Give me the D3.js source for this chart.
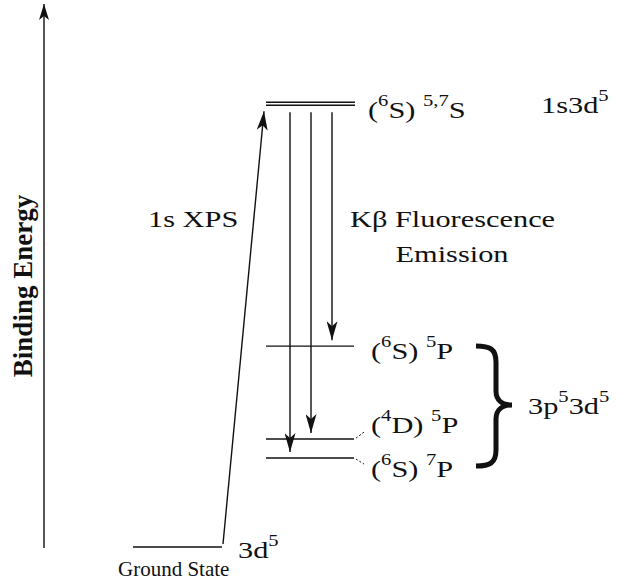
<!DOCTYPE html>
<html>
<head>
<meta charset="utf-8">
<script src="https://cdn.jsdelivr.net/npm/d3@7"></script>
<style>
  html, body { margin: 0; padding: 0; background: #fff; }
  svg { display: block; }
  text { font-family: "Liberation Serif", "Times New Roman", serif; fill: #111; white-space: pre; }
</style>
</head>
<body>
<div id="chart"></div>
<script>
// energies in arbitrary units (ground state = 0)
const groundEnergy = 0;
const coreHoleEnergy = [442, 445];            // 1s3d5 level, drawn as a double line
const finalLabels = ["(^{6}S) ^{7}P", "(^{4}D) ^{5}P", "(^{6}S) ^{5}P"];
const finalEnergy = [89, 108, 201];           // 3p5 3d5 final states
const coreHoleLabel = "(^{6}S) ^{5,7}S";

const width = 621, height = 582;

const svg = d3.select("#chart")
  .append("svg")
  .attr("width", width)
  .attr("height", height);

// energy scale, up = higher binding energy
const y = d3.scaleLinear().domain([0, 445]).range([547, 102.3]);
// columns of the emission arrows, one per final state
const xEm = d3.scalePoint().domain(finalLabels).range([290, 332]);

// arrow heads (latex stealth style)
const defs = svg.append("defs");
function head(id, len, half, notch) {
  defs.append("marker")
    .attr("id", id)
    .attr("markerUnits", "userSpaceOnUse")
    .attr("viewBox", `${-len} ${-half} ${len} ${half * 2}`)
    .attr("markerWidth", len)
    .attr("markerHeight", half * 2)
    .attr("refX", 0).attr("refY", 0)
    .attr("orient", "auto")
    .append("path")
    .attr("d", `M0,0L${-len},${-half}L${-len + notch},0L${-len},${half}Z`)
    .attr("fill", "#111");
}
head("big", 19, 5.5, 5);
head("axis", 16, 5, 4);

// text with ^{..} superscripts, stretched sideways like the original
function richText(str, x, yy, size, sx, anchor) {
  const t = svg.append("text")
    .attr("transform", `translate(${x},${yy}) scale(${sx},1)`)
    .attr("font-size", size)
    .attr("text-anchor", anchor || "start");
  const parts = str.split(/(\^\{[^}]*\})/).filter(s => s.length);
  let up = false;
  parts.forEach(p => {
    if (p.startsWith("^{")) {
      t.append("tspan").attr("font-size", size * 0.68)
        .attr("dy", up ? 0 : -size * 0.5).text(p.slice(2, -1));
      up = true;
    } else {
      t.append("tspan").attr("dy", up ? size * 0.5 : 0).text(p);
      up = false;
    }
  });
  return t;
}

const lineW = 1.4;

// ----- binding energy axis -----
svg.append("line")
  .attr("x1", 44).attr("y1", 548)
  .attr("x2", 44).attr("y2", 4)
  .attr("stroke", "#111").attr("stroke-width", lineW)
  .attr("marker-end", "url(#axis)");

svg.append("text")
  .attr("transform", `translate(32,${286}) rotate(-90)`)
  .attr("text-anchor", "middle")
  .attr("font-size", 27)
  .attr("font-weight", "bold")
  .text("Binding Energy");

// ----- levels -----
svg.append("line")
  .attr("x1", 133).attr("x2", 222)
  .attr("y1", y(groundEnergy)).attr("y2", y(groundEnergy))
  .attr("stroke", "#111").attr("stroke-width", lineW);

svg.selectAll(".core")
  .data(coreHoleEnergy)
  .join("line")
  .attr("class", "core")
  .attr("x1", 266).attr("x2", 355)
  .attr("y1", d => y(d)).attr("y2", d => y(d))
  .attr("stroke", "#111").attr("stroke-width", 1.5);

svg.selectAll(".final")
  .data(finalEnergy)
  .join("line")
  .attr("class", "final")
  .attr("x1", 266).attr("x2", 354)
  .attr("y1", d => y(d)).attr("y2", d => y(d))
  .attr("stroke", "#111").attr("stroke-width", lineW);

// ----- 1s XPS arrow -----
svg.append("line")
  .attr("x1", 223).attr("y1", y(groundEnergy) - 3)
  .attr("x2", 264).attr("y2", y(coreHoleEnergy[0]) + 6)
  .attr("stroke", "#111").attr("stroke-width", lineW)
  .attr("marker-end", "url(#big)");

// ----- K beta emission arrows -----
svg.selectAll(".em")
  .data(finalLabels)
  .join("line")
  .attr("class", "em")
  .attr("x1", d => xEm(d)).attr("x2", d => xEm(d))
  .attr("y1", y(coreHoleEnergy[0]) + 7)
  .attr("y2", (d, i) => y(finalEnergy[i]) - 6)
  .attr("stroke", "#111").attr("stroke-width", lineW)
  .attr("marker-end", "url(#big)");

// ----- labels -----
const labSize = 24, stretch = 1.265;
const labelDy = [19, -6, 13];
finalLabels.forEach((d, i) => {
  richText(d, 371, y(finalEnergy[i]) + labelDy[i], labSize, stretch);
});
richText(coreHoleLabel, 368, 118, labSize, stretch);
richText("1s3d^{5}", 541, 113, labSize, stretch);
richText("3p^{5}3d^{5}", 528, 414, labSize, stretch);
richText("3d^{5}", 238, 558, labSize, stretch);
richText("1s XPS", 148, 227, labSize, stretch);
richText("Kβ Fluorescence", 350, 227, labSize, stretch);
richText("Emission", 452, 262, labSize, stretch, "middle");

svg.append("text")
  .attr("x", 118).attr("y", 576)
  .attr("font-size", 21)
  .text("Ground State");

// dotted connectors to the crowded labels
svg.append("line")
  .attr("x1", 356).attr("y1", y(finalEnergy[1]) - 1)
  .attr("x2", 364).attr("y2", y(finalEnergy[1]) - 7)
  .attr("stroke", "#111").attr("stroke-width", 1).attr("stroke-dasharray", "2,2");
svg.append("line")
  .attr("x1", 356).attr("y1", y(finalEnergy[0]) + 1)
  .attr("x2", 364).attr("y2", y(finalEnergy[0]) + 6)
  .attr("stroke", "#111").attr("stroke-width", 1).attr("stroke-dasharray", "2,2");

// ----- curly brace around the 3p5 3d5 states -----
const bTop = 346, bBot = 466, bMid = 405;
svg.append("path")
  .attr("d", `M476,${bTop} C490,${bTop} 496,${bTop + 3} 496,${bTop + 16}
              L496,${bMid - 14} C496,${bMid - 5} 502,${bMid} 512,${bMid}
              C502,${bMid} 496,${bMid + 5} 496,${bMid + 14}
              L496,${bBot - 16} C496,${bBot - 3} 490,${bBot} 476,${bBot}`)
  .attr("fill", "none")
  .attr("stroke", "#111")
  .attr("stroke-width", 5);
</script>
</body>
</html>
